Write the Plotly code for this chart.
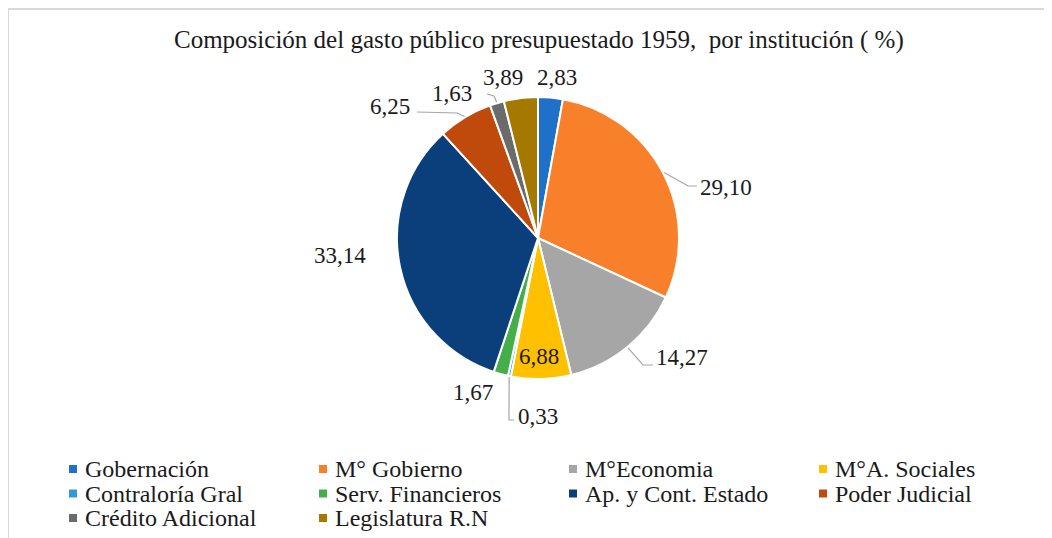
import math
import plotly.graph_objects as go

# ---- data ----
categories = ["Gobernación", "M° Gobierno", "M°Economia", "M°A. Sociales",
              "Contraloría Gral", "Serv. Financieros", "Ap. y Cont. Estado",
              "Poder Judicial", "Crédito Adicional", "Legislatura R.N"]
values = [2.83, 29.10, 14.27, 6.88, 0.33, 1.67, 33.14, 6.25, 1.63, 3.89]
value_labels = ["2,83", "29,10", "14,27", "6,88", "0,33", "1,67", "33,14", "6,25", "1,63", "3,89"]
title_text = "Composición del gasto público presupuestado 1959,  por institución ( %)"

# ---- style ----
colors = ["#1F70C8", "#F8802A", "#A6A6A6", "#FFC000", "#2E9BD8", "#46AE48",
          "#0A3F7C", "#C04A0C", "#6B6B6B", "#A57800"]
W, H = 1052, 538
OFF = 8  # page body margin
CX, CY, R = 538, 238, 141
FONT = "Liberation Serif"
TXT = "#1a1a1a"

def px(x):
    return (x - OFF) / W

def py(y):
    return 1 - (y - OFF) / H

# label placement offsets (pixels from pie centre), per slice
label_off = [(19, -160), (188, -51), (144, 119), (1, 118), (0, 178), (-65, 154),
             (-198, 17), (-148, -131), (-86, -145), (-35, -161)]
# leader lines: (elbow offset, tail offset) per slice or None
leaders = [None, ((150, -52), (159, -52)), ((105, 127), (115, 127)), None,
           ((-29, 182), (-24, 182)), None, None,
           ((-81, -125), (-121, -126)), ((-44, -142), (-51, -144)), None]

fig = go.Figure(go.Pie(
    labels=categories, values=values, sort=False, direction="clockwise",
    rotation=0, marker=dict(colors=colors, line=dict(color="white", width=2)),
    textinfo="none", hoverinfo="label+value", showlegend=False,
    domain=dict(x=[px(CX - R), px(CX + R)], y=[py(CY + R), py(CY - R)]),
))

annotations = []
shapes = []
total = sum(values)
cum = 0.0
for i, v in enumerate(values):
    mid = (cum + v / 2) / total * 2 * math.pi
    cum += v
    dx, dy = label_off[i]
    annotations.append(dict(
        x=px(CX + dx), y=py(CY + dy), xref="paper", yref="paper",
        text=value_labels[i], showarrow=False, xanchor="center", yanchor="middle",
        font=dict(family=FONT, size=23, color=TXT)))
    if leaders[i] is not None:
        ex = CX + (R + 1) * math.sin(mid)
        ey = CY - (R + 1) * math.cos(mid)
        (bx, by), (tx, ty) = leaders[i]
        path = "M {:.4f} {:.4f} L {:.4f} {:.4f} L {:.4f} {:.4f}".format(
            px(ex), py(ey), px(CX + bx), py(CY + by), px(CX + tx), py(CY + ty))
        shapes.append(dict(type="path", path=path, xref="paper", yref="paper",
                           line=dict(color="#A6A6A6", width=1.2)))

# title
annotations.append(dict(x=px(539), y=py(40), xref="paper", yref="paper",
                        text=title_text, showarrow=False, xanchor="center",
                        yanchor="middle", font=dict(family=FONT, size=25, color=TXT)))

# manual legend (4 columns)
col_x0, col_step = 73, 250
row_y0, row_step = 469, 24.5
for i, name in enumerate(categories):
    r, c = divmod(i, 4)
    mx = col_x0 + c * col_step
    my = row_y0 + r * row_step
    shapes.append(dict(type="rect", xref="paper", yref="paper",
                       x0=px(mx - 4), x1=px(mx + 4), y0=py(my + 4), y1=py(my - 4),
                       fillcolor=colors[i], line=dict(width=0)))
    annotations.append(dict(x=px(mx + 10), y=py(my), xref="paper", yref="paper",
                            text=name, showarrow=False, xanchor="left", yanchor="middle",
                            font=dict(family=FONT, size=24, color=TXT)))

# chart border (top/left visible)
shapes.append(dict(type="rect", xref="paper", yref="paper",
                   x0=px(8), x1=1.05, y0=-0.05, y1=py(9),
                   line=dict(color="#D9D9D9", width=2), fillcolor="rgba(0,0,0,0)"))

fig.update_layout(width=W, height=H, margin=dict(l=0, r=0, t=0, b=0),
                  paper_bgcolor="white", plot_bgcolor="white",
                  annotations=annotations, shapes=shapes, showlegend=False)
fig.write_html("out.html")
